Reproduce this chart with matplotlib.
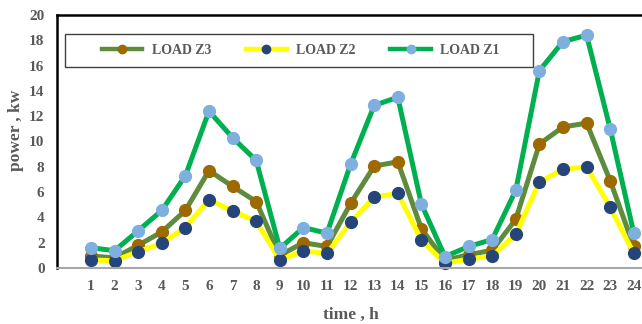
import matplotlib
matplotlib.use("Agg")
import matplotlib.pyplot as plt
from matplotlib.patches import Rectangle

hours = list(range(1, 25))
load_z3 = [0.95, 0.8, 1.8, 2.85, 4.55, 7.7, 6.45, 5.25, 1.0, 2.0, 1.7, 5.1, 8.05, 8.4,
           3.1, 0.6, 1.05, 1.4, 3.85, 9.8, 11.15, 11.45, 6.9, 1.7]
load_z2 = [0.63, 0.58, 1.3, 1.95, 3.2, 5.4, 4.5, 3.7, 0.63, 1.35, 1.15, 3.6, 5.6, 5.9,
           2.2, 0.37, 0.7, 0.95, 2.65, 6.8, 7.8, 8.0, 4.8, 1.15]
load_z1 = [1.6, 1.37, 2.95, 4.55, 7.3, 12.4, 10.3, 8.5, 1.55, 3.2, 2.75, 8.2, 12.85, 13.5,
           5.05, 0.9, 1.7, 2.25, 6.15, 15.6, 17.9, 18.4, 11.0, 2.75]
yticks = list(range(0, 21, 2))

TXT = "#595959"
font = "Liberation Serif"

W, H = 642, 324
fig = plt.figure(figsize=(W / 100, H / 100), dpi=100)
left, right, top, bottom = 57, 665, 15, 268
ax = fig.add_axes([left / W, 1 - bottom / H, (right - left) / W, (bottom - top) / H])

sp = 23.6
x0 = 91
ax.set_xlim(1 - (x0 - left) / sp, 1 + (right - x0) / sp)
ax.set_ylim(0, 20)

series = [
    ("LOAD Z3", load_z3, "#5E8B3C", "#9C6A00"),
    ("LOAD Z2", load_z2, "#FFFF00", "#25457A"),
    ("LOAD Z1", load_z1, "#00B050", "#7EAFDE"),
]
handles = []
for name, vals, lc, mc in series:
    ax.plot(hours, vals, color=lc, lw=3.6, marker="o", ms=8.5, mfc=mc, mec=mc,
            solid_joinstyle="miter", clip_on=False, zorder=2)
    h, = ax.plot([], [], color=lc, lw=3.2, marker="o", ms=6, mfc=mc, mec=mc)
    h.set_label(name)
    handles.append(h)

ax.set_xticks(hours)
ax.set_xticklabels([str(h) for h in hours])
ax.set_yticks(yticks)
ax.set_yticklabels([str(v) for v in yticks])
ax.tick_params(axis="both", length=0, labelsize=11, labelcolor=TXT)
ax.tick_params(axis="y", pad=9)
ax.tick_params(axis="x", pad=9)
for lab in ax.get_xticklabels() + ax.get_yticklabels():
    lab.set_fontfamily(font)
    lab.set_fontweight("bold")

ax.spines["right"].set_visible(False)
ax.spines["left"].set_color("black")
ax.spines["left"].set_linewidth(1.8)
ax.spines["top"].set_color("black")
ax.spines["top"].set_linewidth(1.8)
ax.spines["bottom"].set_color("#A6A6A6")
ax.spines["bottom"].set_linewidth(1.5)

fig.text(351 / W, 1 - 315 / H, "time , h", ha="center", va="center",
         fontfamily=font, fontweight="bold", fontsize=12.5, color=TXT)
fig.text(16 / W, 1 - 130 / H, "power , kw", ha="center", va="center", rotation=90,
         fontfamily=font, fontweight="bold", fontsize=12.5, color=TXT)

# legend frame
ax.add_patch(Rectangle((65 / W, 1 - 67 / H), (533 - 65) / W, (67 - 34) / H,
                       transform=fig.transFigure, fill=True, facecolor="white",
                       edgecolor="#404040", lw=1.0, zorder=4, clip_on=False))
leg = ax.legend(handles=handles, loc="center", bbox_to_anchor=(301 / W, 1 - 50.5 / H),
                bbox_transform=fig.transFigure, ncol=3, frameon=False,
                handlelength=2.9, handletextpad=0.7, columnspacing=2.5,
                prop={"family": font, "weight": "bold", "size": 10})
for t in leg.get_texts():
    t.set_color(TXT)
leg.set_zorder(6)

fig.savefig("out.png", dpi=100)
